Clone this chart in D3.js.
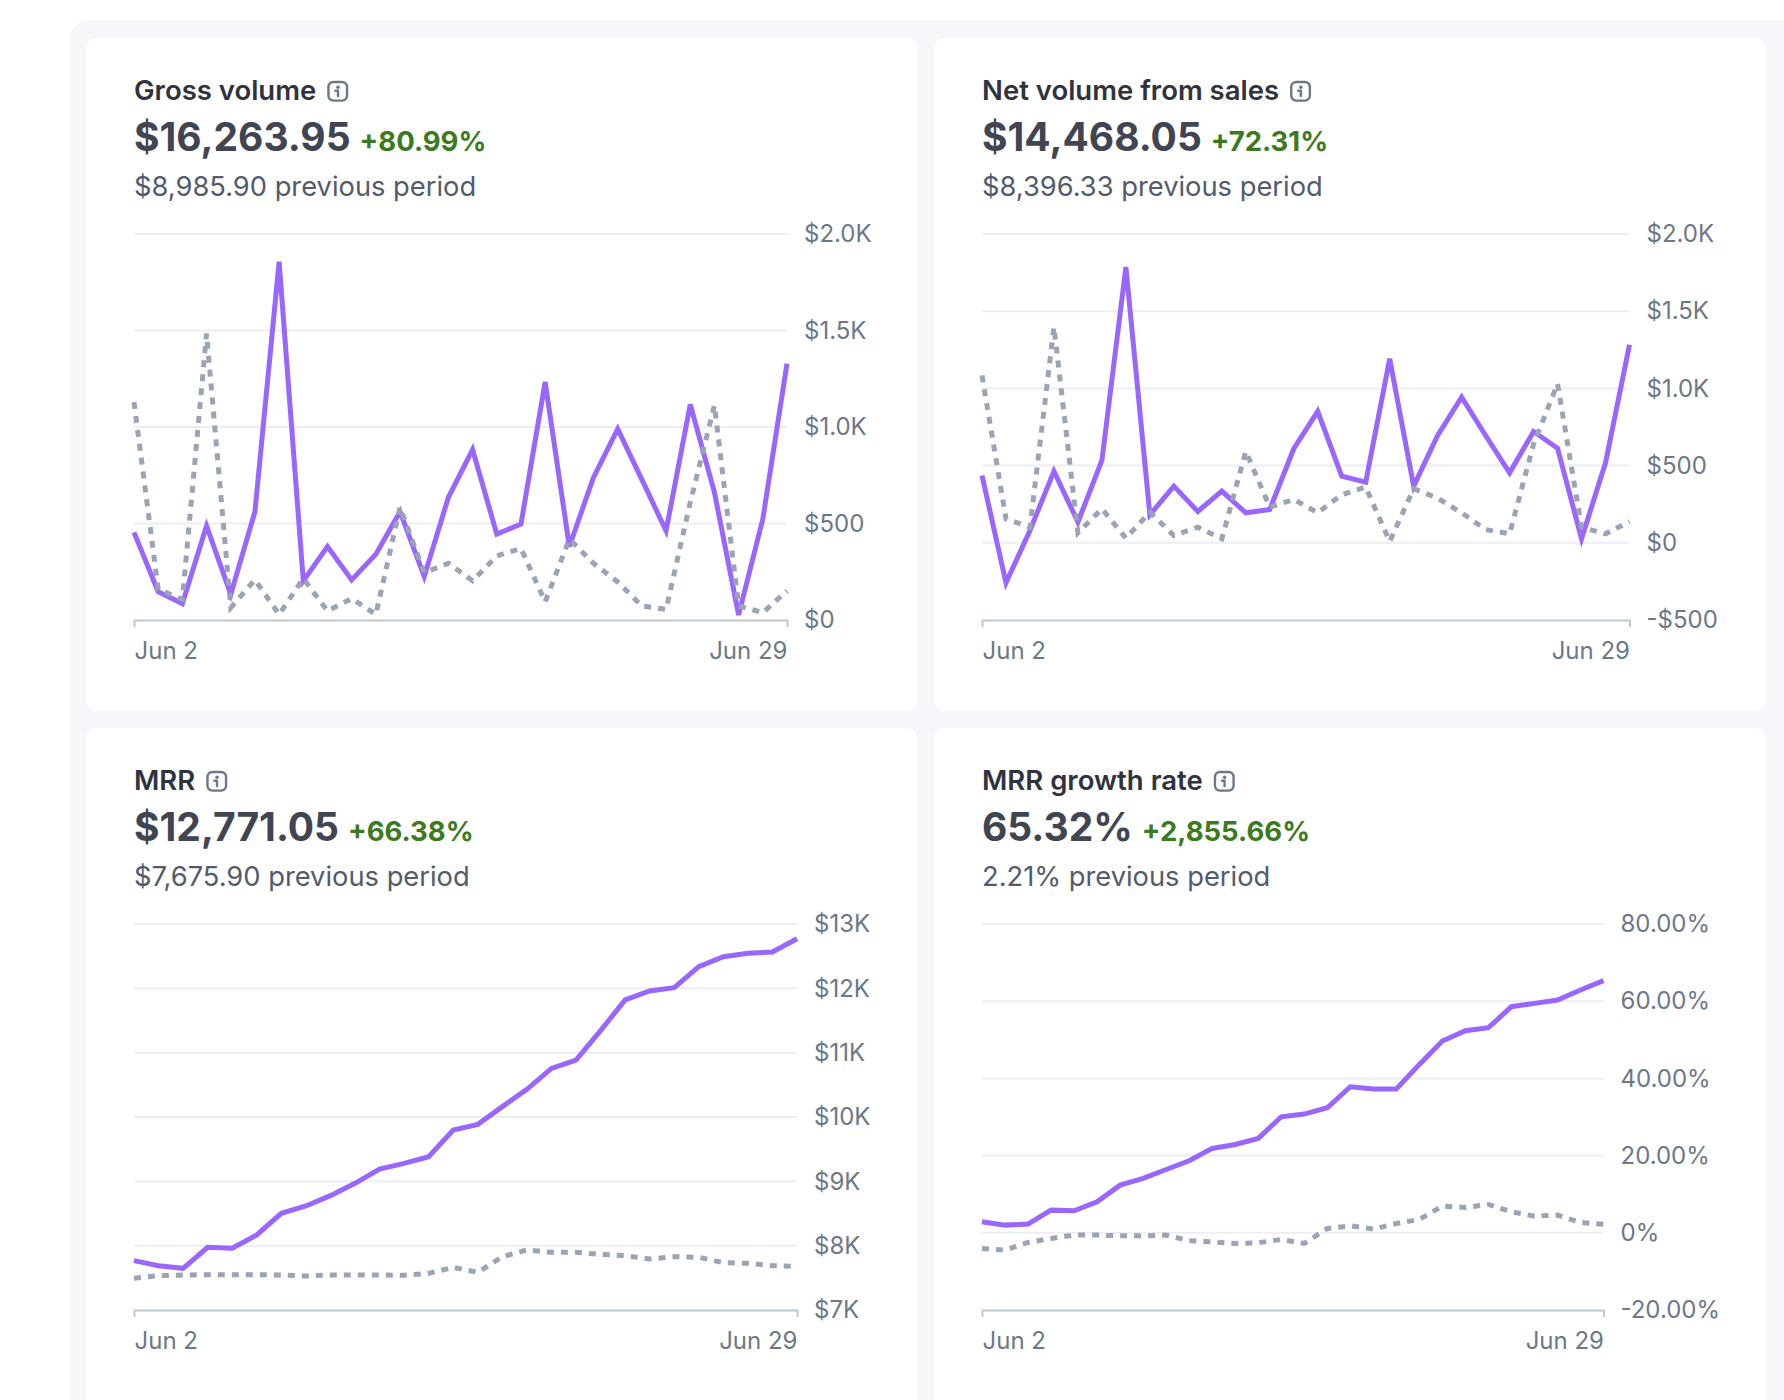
<!DOCTYPE html>
<html>
<head>
<meta charset="utf-8">
<script src="https://cdn.jsdelivr.net/npm/d3@7"></script>
<style>
  body { margin: 0; background: #fff; font-family: Inter, 'Noto Sans', sans-serif; }
  svg { display: block; }
</style>
</head>
<body>
<svg id="dash" width="1784" height="1400"></svg>
<script>
// days shown on the x axis (Jun 2 .. Jun 29)
const days = ['Jun 2', 'Jun 3', 'Jun 4', 'Jun 5', 'Jun 6', 'Jun 7', 'Jun 8', 'Jun 9', 'Jun 10',
  'Jun 11', 'Jun 12', 'Jun 13', 'Jun 14', 'Jun 15', 'Jun 16', 'Jun 17', 'Jun 18', 'Jun 19',
  'Jun 20', 'Jun 21', 'Jun 22', 'Jun 23', 'Jun 24', 'Jun 25', 'Jun 26', 'Jun 27', 'Jun 28', 'Jun 29']

const grossCurrent = [454, 147, 85, 488, 133, 561, 1856, 203, 381, 208, 341, 561, 225, 636, 883, 445, 497, 1233, 381, 739, 990, 727, 462, 1117, 661, 26, 523, 1328]
const grossPrevious = [1129, 159, 107, 1484, 64, 208, 29, 215, 47, 111, 29, 584, 246, 294, 203, 332, 371, 94, 419, 294, 197, 73, 55, 609, 1112, 73, 38, 151]
const grossTicks = [0, 500, 1000, 1500, 2000]
const grossTickLabels = ['$0', '$500', '$1.0K', '$1.5K', '$2.0K']

const netCurrent = [436, -259, 80, 464, 134, 533, 1786, 181, 367, 203, 335, 194, 216, 609, 851, 432, 393, 1192, 367, 695, 943, 695, 453, 721, 613, 26, 518, 1282]
const netPrevious = [1084, 155, 101, 1397, 65, 220, 30, 199, 47, 101, 26, 592, 231, 281, 195, 311, 361, 9, 350, 289, 194, 86, 58, 640, 1030, 101, 58, 138]
const netTicks = [-500, 0, 500, 1000, 1500, 2000]
const netTickLabels = ['-$500', '$0', '$500', '$1.0K', '$1.5K', '$2.0K']

const mrrCurrent = [7767, 7689, 7648, 7974, 7959, 8166, 8503, 8617, 8777, 8969, 9192, 9280, 9383, 9798, 9886, 10161, 10430, 10756, 10886, 11342, 11819, 11959, 12010, 12337, 12492, 12544, 12565, 12771]
const mrrPrevious = [7492, 7534, 7544, 7549, 7549, 7549, 7544, 7528, 7544, 7544, 7544, 7539, 7570, 7663, 7585, 7829, 7933, 7896, 7896, 7865, 7845, 7793, 7829, 7819, 7736, 7725, 7689, 7676]
const mrrTicks = [7000, 8000, 9000, 10000, 11000, 12000, 13000]
const mrrTickLabels = ['$7K', '$8K', '$9K', '$10K', '$11K', '$12K', '$13K']

const growthCurrent = [2.85, 1.99, 2.25, 5.87, 5.70, 8.03, 12.35, 14.08, 16.41, 18.66, 21.86, 22.89, 24.45, 30.06, 30.76, 32.40, 37.84, 37.24, 37.24, 43.63, 49.68, 52.35, 53.13, 58.57, 59.44, 60.30, 62.89, 65.32]
const growthPrevious = [-4.06, -4.49, -2.51, -1.47, -0.60, -0.60, -0.78, -0.78, -0.60, -2.07, -2.33, -2.76, -2.59, -1.73, -2.76, 1.12, 1.81, 0.95, 2.42, 3.46, 6.91, 6.57, 7.34, 5.44, 4.32, 4.58, 2.68, 2.21]
const growthTicks = [-20, 0, 20, 40, 60, 80]
const growthTickLabels = ['-20.00%', '0%', '20.00%', '40.00%', '60.00%', '80.00%']

const colors = {
  panel: '#f6f7fb',
  title: '#30333d',
  value: '#414552',
  change: '#3b7a1f',
  previous: '#525b6e',
  axisText: '#6c7789',
  grid: '#ebeef2',
  axis: '#c1c9d3',
  current: '#9966ff',
  past: '#9aa4b5'
}

const cards = [
  { title: 'Gross volume', value: '$16,263.95', change: '+80.99%', previous: '$8,985.90 previous period',
    current: grossCurrent, past: grossPrevious, ticks: grossTicks, labels: grossTickLabels,
    x: 86, y: 38, w: 831, h: 673, plotRight: 701 },
  { title: 'Net volume from sales', value: '$14,468.05', change: '+72.31%', previous: '$8,396.33 previous period',
    current: netCurrent, past: netPrevious, ticks: netTicks, labels: netTickLabels,
    x: 934, y: 38, w: 832, h: 673, plotRight: 695.5 },
  { title: 'MRR', value: '$12,771.05', change: '+66.38%', previous: '$7,675.90 previous period',
    current: mrrCurrent, past: mrrPrevious, ticks: mrrTicks, labels: mrrTickLabels,
    x: 86, y: 728, w: 831, h: 720, plotRight: 711 },
  { title: 'MRR growth rate', value: '65.32%', change: '+2,855.66%', previous: '2.21% previous period',
    current: growthCurrent, past: growthPrevious, ticks: growthTicks, labels: growthTickLabels,
    x: 934, y: 728, w: 832, h: 720, plotRight: 669.5 }
]

const pad = 48
const plotTop = 196
const plotBottom = 582

const svg = d3.select('#dash')

svg.append('rect')
  .attr('x', 70).attr('y', 20)
  .attr('width', 1800).attr('height', 1500)
  .attr('rx', 18)
  .attr('fill', colors.panel)

function infoIcon (g, x, cy) {
  const s = 21
  const ig = g.append('g').attr('transform', `translate(${x},${cy - s / 2})`)
  ig.append('rect')
    .attr('x', 1.2).attr('y', 1.2)
    .attr('width', s - 2.4).attr('height', s - 2.4)
    .attr('rx', 5)
    .attr('fill', 'none')
    .attr('stroke', colors.axisText)
    .attr('stroke-width', 2.4)
  ig.append('circle')
    .attr('cx', s / 2 + 0.3).attr('cy', 6.4).attr('r', 1.8)
    .attr('fill', colors.axisText)
  ig.append('path')
    .attr('d', `M${s / 2 - 2.3},10 H${s / 2 + 0.3} V15.2`)
    .attr('fill', 'none')
    .attr('stroke', colors.axisText)
    .attr('stroke-width', 2.4)
    .attr('stroke-linecap', 'round')
    .attr('stroke-linejoin', 'round')
}

cards.forEach((card) => {
  const g = svg.append('g').attr('transform', `translate(${card.x},${card.y})`)

  g.append('rect')
    .attr('width', card.w).attr('height', card.h)
    .attr('rx', 11)
    .attr('fill', '#fff')

  // header
  const title = g.append('text')
    .attr('x', pad).attr('y', 61.7)
    .attr('font-size', 27.5).attr('font-weight', 600)
    .attr('fill', colors.title)
    .text(card.title)
  infoIcon(g, pad + title.node().getComputedTextLength() + 11, 53.3)

  const value = g.append('text')
    .attr('x', pad).attr('y', 113.3)
    .attr('font-size', 39).attr('font-weight', 700)
    .attr('fill', colors.value)
    .text(card.value)
  g.append('text')
    .attr('x', pad + value.node().getComputedTextLength() + 9).attr('y', 113.3)
    .attr('font-size', 27.5).attr('font-weight', 700)
    .attr('fill', colors.change)
    .text(card.change)

  g.append('text')
    .attr('x', pad).attr('y', 158.3)
    .attr('font-size', 27.3).attr('font-weight', 400)
    .attr('fill', colors.previous)
    .text(card.previous)

  // scales
  const x = d3.scalePoint().domain(days).range([pad, card.plotRight])
  const y = d3.scaleLinear()
    .domain(d3.extent(card.ticks))
    .range([plotBottom, plotTop])

  // grid
  g.append('g').selectAll('line')
    .data(card.ticks.slice(1))
    .join('line')
    .attr('x1', pad).attr('x2', card.plotRight)
    .attr('y1', d => y(d)).attr('y2', d => y(d))
    .attr('stroke', colors.grid)
    .attr('stroke-width', 2)

  // y labels
  const yAxis = d3.axisRight(y)
    .tickValues(card.ticks)
    .tickFormat((d, i) => card.labels[i])
    .tickSize(0)
    .tickPadding(17)
  g.append('g')
    .attr('transform', `translate(${card.plotRight},0)`)
    .call(yAxis)
    .call(a => a.select('.domain').remove())
    .call(a => a.selectAll('text')
      .attr('font-family', 'Inter, sans-serif')
      .attr('font-size', 24)
      .attr('fill', colors.axisText))

  // x axis
  const xAxis = d3.axisBottom(x)
    .tickValues([days[0], days[days.length - 1]])
    .tickSizeInner(0)
    .tickSizeOuter(7)
  g.append('g')
    .attr('transform', `translate(0,${plotBottom})`)
    .call(xAxis)
    .call(a => a.select('.domain')
      .attr('stroke', colors.axis)
      .attr('stroke-width', 2))
    .call(a => a.selectAll('.tick text')
      .attr('font-family', 'Inter, sans-serif')
      .attr('font-size', 24)
      .attr('fill', colors.axisText)
      .attr('dy', null)
      .attr('y', 38.5)
      .attr('text-anchor', (d, i) => i === 0 ? 'start' : 'end'))

  // series
  const line = d3.line()
    .x((d, i) => x(days[i]))
    .y(d => y(d))

  g.append('path')
    .datum(card.current)
    .attr('d', line)
    .attr('fill', 'none')
    .attr('stroke', colors.current)
    .attr('stroke-width', 5)
    .attr('stroke-linejoin', 'miter')

  g.append('path')
    .datum(card.past)
    .attr('d', line)
    .attr('fill', 'none')
    .attr('stroke', colors.past)
    .attr('stroke-width', 5)
    .attr('stroke-dasharray', '7,7')
})
</script>
</body>
</html>
